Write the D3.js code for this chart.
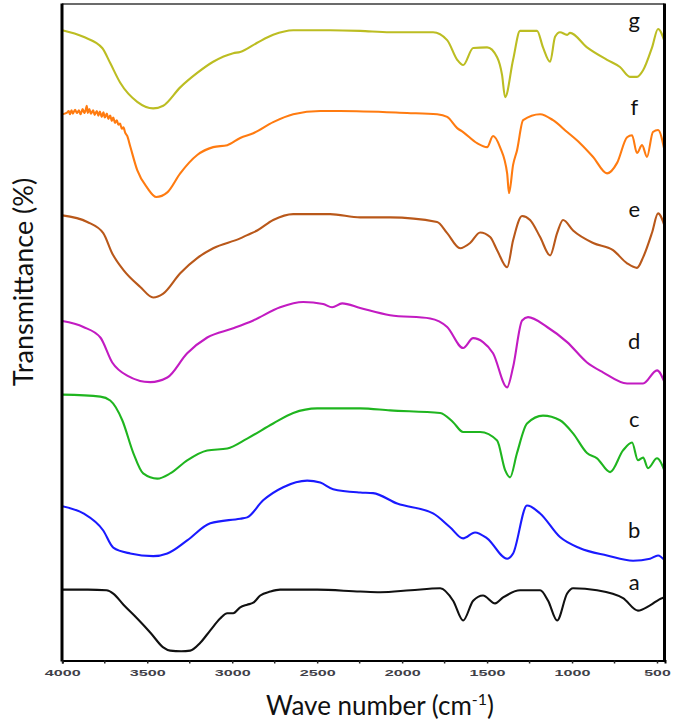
<!DOCTYPE html>
<html><head><meta charset="utf-8">
<script src="https://cdn.jsdelivr.net/npm/d3@7"></script>
<style>body{margin:0;background:#fff}svg{display:block}</style>
</head><body>
<svg id="chart" width="675" height="726"></svg>
<script>
// ---- data: [wavenumber (cm-1), transmittance (%, offset-stacked)] ----
const seriesNames = ["a","b","c","d","e","f","g"];
const seriesColors = ["#111111","#1a1aff","#1fb51f","#c21bc2","#b9581a","#ff7b10","#bcbd22"];

const specA = [[4000,10.8],[3850,10.8],[3740,10.7],[3700,10.2],[3640,8.5],[3559,6.4],[3480,4.2],[3406,2.0],[3365,1.5],[3300,1.4],[3247,1.5],[3188,2.7],[3129,4.6],[3071,6.4],[3029,7.2],[2994,7.2],[2953,8.1],[2912,8.5],[2876,8.8],[2835,9.9],[2776,10.5],[2718,10.8],[2500,10.8],[2247,10.5],[2129,10.4],[1950,10.7],[1776,11.0],[1700,9.1],[1641,6.1],[1582,9.1],[1524,9.9],[1453,8.7],[1406,9.6],[1306,10.7],[1188,10.7],[1141,9.1],[1088,6.1],[1029,10.2],[994,11.0],[853,10.7],[700,9.5],[612,7.6],[541,8.4],[471,9.5],[453,9.6]];
const specB = [[4000,23.5],[3876,22.4],[3759,19.8],[3700,17.2],[3600,16.3],[3465,15.9],[3382,16.3],[3265,18.3],[3129,20.9],[2953,21.6],[2912,21.8],[2818,24.4],[2700,26.4],[2559,27.4],[2482,27.1],[2406,26.1],[2247,25.6],[2171,25.5],[2029,23.9],[1818,22.4],[1718,20.3],[1641,18.6],[1571,19.5],[1500,18.6],[1382,15.5],[1347,16.3],[1265,23.6],[1188,22.4],[1071,18.8],[953,17.1],[794,16.0],[641,15.2],[541,15.5],[494,16.0],[453,15.2]];
const specC = [[4000,40.5],[3776,40.2],[3718,39.6],[3647,36.6],[3582,31.6],[3524,28.5],[3441,27.7],[3365,28.5],[3265,30.5],[3147,32.0],[3029,32.3],[2912,33.8],[2759,36.1],[2641,37.7],[2500,38.4],[2247,38.4],[2071,38.1],[1776,37.7],[1700,36.3],[1641,34.8],[1541,34.8],[1441,33.5],[1394,29.0],[1365,27.9],[1324,31.6],[1265,36.1],[1171,37.3],[1071,36.6],[994,34.6],[912,31.6],[853,30.8],[776,28.7],[700,32.0],[647,33.2],[612,30.5],[582,30.9],[553,29.3],[500,30.8],[453,28.7]];
const specD = [[4000,51.7],[3876,50.8],[3776,49.2],[3706,45.4],[3618,43.4],[3482,42.4],[3382,43.1],[3265,46.8],[3147,49.2],[2994,50.6],[2876,51.8],[2718,53.8],[2582,54.6],[2465,54.3],[2412,53.8],[2353,54.4],[2247,53.7],[2071,52.6],[1835,52.1],[1735,50.8],[1641,47.6],[1582,49.1],[1524,48.5],[1465,46.8],[1382,41.6],[1347,44.7],[1294,51.8],[1259,52.3],[1147,50.8],[1029,48.5],[912,45.4],[818,43.9],[676,42.2],[582,42.2],[500,44.2],[453,42.2]];
const specE = [[4000,67.8],[3853,66.8],[3759,65.1],[3706,62.0],[3641,59.5],[3541,56.9],[3465,55.3],[3406,55.9],[3306,59.0],[3206,61.3],[3112,62.8],[2953,64.3],[2912,64.8],[2853,65.5],[2759,67.1],[2641,68.0],[2424,68.0],[2247,67.5],[2071,67.5],[1794,66.8],[1735,65.1],[1659,62.8],[1600,63.6],[1541,65.2],[1482,64.5],[1441,62.5],[1382,59.9],[1347,64.0],[1294,67.7],[1247,67.1],[1188,64.5],[1129,61.7],[1088,65.1],[1053,67.1],[994,65.5],[876,63.6],[759,62.5],[676,60.5],[618,59.8],[582,61.4],[529,65.2],[494,68.1],[453,66.0]];
const specF = [[4000,83.2],[3975,83.4],[3962,83.7],[3955,83.2],[3946,83.8],[3938,83.3],[3925,83.9],[3914,83.4],[3902,83.8],[3893,83.2],[3880,84.0],[3871,83.4],[3862,83.9],[3856,84.5],[3850,83.4],[3841,84.0],[3832,83.3],[3818,83.8],[3810,83.1],[3797,83.7],[3788,83.0],[3779,83.6],[3768,82.8],[3758,83.5],[3750,82.7],[3738,83.3],[3729,82.5],[3718,83.0],[3709,82.2],[3700,82.7],[3690,81.9],[3679,82.3],[3670,81.6],[3660,81.8],[3650,81.0],[3640,81.2],[3630,80.4],[3618,79.9],[3600,78.3],[3559,74.7],[3500,72.0],[3447,70.6],[3382,71.3],[3306,74.2],[3206,77.0],[3112,78.2],[3029,78.5],[2953,79.6],[2876,80.3],[2759,82.0],[2641,83.2],[2482,83.7],[2365,83.7],[1971,83.4],[1794,83.2],[1735,82.8],[1676,81.1],[1641,80.5],[1559,78.8],[1500,78.2],[1465,79.9],[1424,78.2],[1382,74.2],[1371,71.2],[1347,75.5],[1324,77.7],[1288,82.3],[1188,83.2],[1112,82.3],[1029,80.5],[953,78.8],[876,76.7],[794,74.2],[735,75.8],[676,79.7],[647,80.0],[618,77.3],[588,78.5],[559,76.7],[524,80.5],[494,80.8],[453,77.3]];
const specG = [[4000,96.0],[3876,95.0],[3765,93.3],[3718,91.0],[3659,88.0],[3559,85.1],[3465,84.1],[3406,84.5],[3306,87.3],[3206,89.5],[3112,91.2],[2994,92.5],[2953,92.7],[2853,94.1],[2759,95.3],[2641,96.0],[2424,96.0],[2247,95.9],[2071,95.7],[1818,95.7],[1735,94.5],[1676,91.5],[1641,90.7],[1582,93.3],[1500,93.4],[1441,91.9],[1412,89.2],[1394,85.8],[1347,91.5],[1306,95.9],[1206,95.9],[1171,93.4],[1129,91.2],[1100,95.0],[1071,95.7],[1029,95.3],[1012,95.6],[912,93.4],[794,91.5],[718,90.4],[659,88.9],[618,88.9],[582,89.9],[529,93.4],[494,96.2],[453,94.1]];

const spectra = [specA, specB, specC, specD, specE, specF, specG];
const xTickValues = [4000,3500,3000,2500,2000,1500,1000,500];
const xMinorTicks = [3750,3250,2750,2250,1750,1250,750];

// ---- layout ----
const svg = d3.select("#chart");
const L = 62, R = 664.5, T = 4, B = 660.5;
const x = d3.scaleLinear().domain([4000, 453]).range([L + 0.3, R + 0.5]);
const y = d3.scaleLinear().domain([0, 100]).range([B, T]);

// curves
const line = d3.line().x(d => x(d[0])).y(d => y(d[1])).curve(d3.curveMonotoneX);
svg.append("g").selectAll("path").data(spectra).join("path")
  .attr("d", line).attr("fill", "none")
  .attr("stroke", (d, i) => seriesColors[i]).attr("stroke-width", 2.1)
  .attr("stroke-linejoin", "round");

// series letters (positioned at w=634 cm-1, baseline value per series)
const labelT = [10.8, 18.7, 35.6, 47.5, 67.5, 83.1, 96.3];
const labelW = 634;
svg.append("g").selectAll("text").data(seriesNames).join("text")
  .attr("x", x(labelW)).attr("y", (d, i) => y(labelT[i]))
  .attr("text-anchor", "middle")
  .attr("font-family", "Lato, 'Open Sans', sans-serif").attr("font-size", 22)
  .attr("fill", "#111").text(d => d);

// frame
svg.append("line").attr("x1", L).attr("x2", R).attr("y1", T).attr("y2", T)
  .attr("stroke", "#3a3a3a").attr("stroke-width", 1.5);
svg.append("line").attr("x1", L).attr("x2", L).attr("y1", T - 0.5).attr("y2", B + 1)
  .attr("stroke", "#000").attr("stroke-width", 3);
svg.append("line").attr("x1", R).attr("x2", R).attr("y1", T - 0.5).attr("y2", B + 1)
  .attr("stroke", "#000").attr("stroke-width", 3);

// x axis
const xAxis = d3.axisBottom(x).tickValues(xTickValues).tickSize(3).tickFormat(d3.format("d"));
const gx = svg.append("g").attr("transform", `translate(0,${B})`).call(xAxis);
gx.select(".domain").attr("stroke", "#000").attr("stroke-width", 2);
gx.selectAll(".tick line").attr("stroke", "#222").attr("stroke-width", 1.5);
gx.selectAll(".tick text")
  .attr("y", 15).attr("dy", 0)
  .attr("font-family", "'Liberation Sans', Arial, sans-serif")
  .attr("font-weight", "bold").attr("font-size", 9.5).attr("fill", "#404048")
  .attr("textLength", d => String(d).length === 4 ? 36 : 26.5)
  .attr("lengthAdjust", "spacingAndGlyphs");
svg.append("g").selectAll("line").data(xMinorTicks).join("line")
  .attr("x1", d => x(d)).attr("x2", d => x(d))
  .attr("y1", B).attr("y2", B + 3).attr("stroke", "#222").attr("stroke-width", 1.5);

// axis titles
const xt = svg.append("text").attr("x", 380).attr("y", 715).attr("text-anchor", "middle")
  .attr("font-family", "Lato, 'Open Sans', sans-serif").attr("font-size", 26).attr("fill", "#111");
xt.append("tspan").text("Wave number (cm");
xt.append("tspan").attr("dy", -10).attr("font-size", 16).text("-1");
xt.append("tspan").attr("dy", 10).text(")");

svg.append("text").attr("transform", "translate(33,282) rotate(-90)")
  .attr("text-anchor", "middle")
  .attr("font-family", "Lato, 'Open Sans', sans-serif").attr("font-size", 27).attr("fill", "#111")
  .text("Transmittance (%)");
</script>
</body></html>
